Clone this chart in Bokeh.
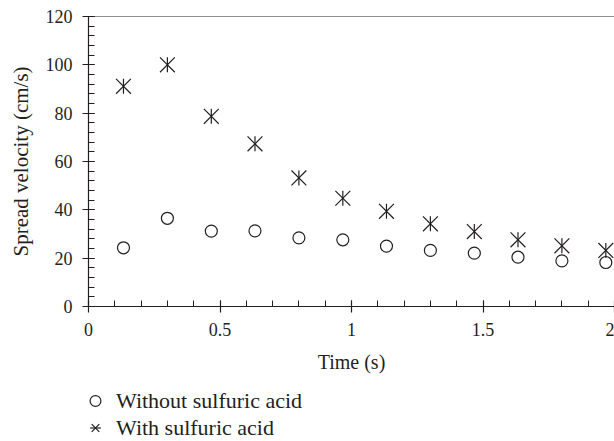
import math
from bokeh.plotting import figure
from bokeh.layouts import column
from bokeh.models import (SingleIntervalTicker, CustomJSTickFormatter, Legend, LegendItem,
                          Span, Range1d, ColumnDataSource)
from bokeh.embed import file_html
from bokeh.resources import INLINE

# data
time_s = [0.133, 0.3, 0.467, 0.633, 0.8, 0.967, 1.133, 1.3, 1.467, 1.633, 1.8, 1.967]
without_acid = [24.3, 36.5, 31.2, 31.3, 28.4, 27.6, 25.0, 23.2, 22.1, 20.4, 18.9, 18.2]
with_acid = [91.1, 100.0, 78.7, 67.3, 53.2, 44.8, 39.4, 34.2, 31.0, 27.6, 25.1, 23.2]
series_names = ["Without sulfuric acid", "With sulfuric acid"]
x_label = "Time (s)"
y_label = "Spread velocity (cm/s)"

INK = "#231f20"
FONT = "Liberation Serif"


def star(fig, source, x, y, size_x=None, size_bar=None):
    # six-armed star: an "x" plus a vertical bar
    kw = dict(source=source, line_color=INK, line_width=1.2)
    a = fig.scatter(x, y, marker="x", **kw, **({} if size_x is None else {"size": size_x}))
    b = fig.scatter(x, y, marker="dash", angle=math.pi / 2, **kw,
                    **({} if size_bar is None else {"size": size_bar}))
    return [a, b]


p = figure(width=614, height=385, output_backend="svg", toolbar_location=None,
           x_range=Range1d(0, 2), y_range=Range1d(0, 120),
           min_border_left=88, min_border_top=16, min_border_right=0, min_border_bottom=79)
p.outline_line_color = None
p.grid.visible = False
p.background_fill_color = "white"
p.border_fill_color = "white"

src = ColumnDataSource(dict(t=time_s, wo=without_acid, wi=with_acid))
r1 = p.scatter("t", "wo", source=src, marker="circle", size=12, fill_color=None,
               line_color=INK, line_width=1.2)
r2 = star(p, src, "t", "wi", size_x=21, size_bar=15)

p.add_layout(Span(location=120, dimension="width", line_color=INK, line_width=1.2))

p.xaxis.ticker = SingleIntervalTicker(interval=0.5, num_minor_ticks=5)
p.yaxis.ticker = SingleIntervalTicker(interval=20, num_minor_ticks=5)
p.xaxis.formatter = CustomJSTickFormatter(code="return tick.toString()")
p.xaxis.axis_label = x_label
p.yaxis.axis_label = y_label
for ax in (p.xaxis, p.yaxis):
    ax.axis_line_color = INK
    ax.axis_line_width = 1.2
    ax.major_tick_line_color = INK
    ax.minor_tick_line_color = INK
    ax.major_tick_line_width = 1.2
    ax.minor_tick_line_width = 1.0
    ax.major_tick_in = 6
    ax.major_tick_out = 6
    ax.minor_tick_in = 6
    ax.minor_tick_out = 0
    ax.major_label_text_font = FONT
    ax.major_label_text_font_size = "18px"
    ax.major_label_text_color = INK
    ax.axis_label_text_font = FONT
    ax.axis_label_text_font_style = "normal"
    ax.axis_label_text_color = INK
p.xaxis.axis_label_text_font_size = "20px"
p.yaxis.axis_label_text_font_size = "21px"
p.xaxis.major_label_standoff = 10
p.xaxis.axis_label_standoff = 12
p.yaxis.major_label_standoff = 10
p.yaxis.axis_label_standoff = 10

# legend strip below the chart (its view excludes the data, only the key is shown)
lg = figure(width=614, height=56, output_backend="svg", toolbar_location=None,
            x_axis_location=None, y_axis_location=None,
            x_range=Range1d(10, 11), y_range=Range1d(1000, 1001),
            min_border_left=0, min_border_right=0, min_border_top=0, min_border_bottom=0)
lg.outline_line_color = None
lg.grid.visible = False
k1 = lg.scatter("t", "wo", source=src, marker="circle", fill_color=None,
                line_color=INK, line_width=1.2)
k2 = star(lg, src, "t", "wi")
legend = Legend(items=[LegendItem(label=series_names[0], renderers=[k1]),
                       LegendItem(label=series_names[1], renderers=k2)],
                location=(-7, 0), orientation="vertical",
                margin=0, padding=0, spacing=0,
                glyph_width=28, glyph_height=27, label_standoff=7,
                label_text_font=FONT, label_text_font_size="22px", label_text_color=INK,
                border_line_color=None, background_fill_alpha=0)
lg.add_layout(legend)

open("out.html", "w").write(file_html(column(p, lg, spacing=0), INLINE))
